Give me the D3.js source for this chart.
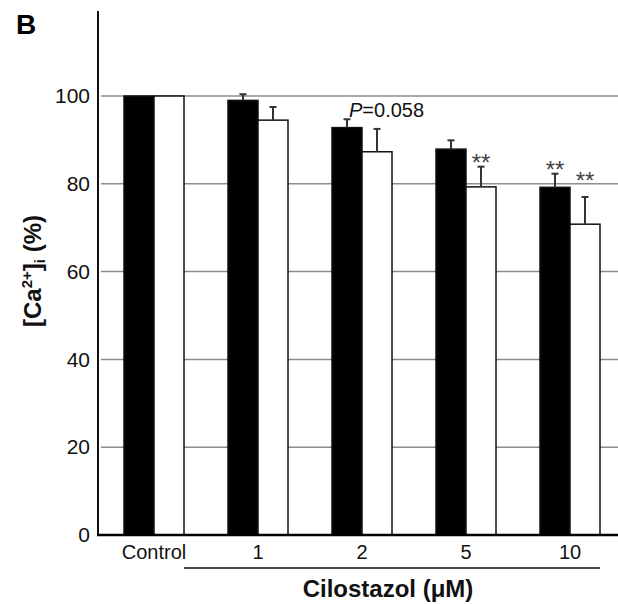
<!DOCTYPE html>
<html>
<head>
<meta charset="utf-8">
<script src="https://cdn.jsdelivr.net/npm/d3@7"></script>
<style>
  body { margin: 0; background: #fff; }
  svg { display: block; font-family: Arial, "Liberation Sans", sans-serif; }
</style>
</head>
<body>
<svg id="chart" width="618" height="604"></svg>
<script>
// data
const categories = ['Control', '1', '2', '5', '10'];
const series = ['black', 'white'];
const blackValues = [100, 99.0, 92.8, 87.9, 79.2];
const blackErrors = [0, 1.4, 1.9, 2.0, 3.1];
const whiteValues = [100, 94.5, 87.3, 79.3, 70.8];
const whiteErrors = [0, 3.0, 5.2, 4.6, 6.2];
const yTicks = [0, 20, 40, 60, 80, 100];

// significance marks: category, series, value where the mark sits
const starMarks = [
    { cat: '5', ser: 'white', v: 85.4 },
    { cat: '10', ser: 'black', v: 83.6 },
    { cat: '10', ser: 'white', v: 81.1 }
];
const pNote = { cat: '2', ser: 'black', v: 95.2, text: '=0.058' };

const svg = d3.select('#chart');
const W = 618;
const axisX = 98, baseY = 535, topY = 11;

const y = d3.scaleLinear().domain([0, 100]).range([baseY, 96]);

const x = d3.scaleBand()
    .domain(categories)
    .range([102, 622])
    .paddingInner(0.423)
    .paddingOuter(0.2115);

const xs = d3.scaleBand()
    .domain(series)
    .range([0, x.bandwidth()]);

// gridlines
svg.append('g')
    .selectAll('line')
    .data(yTicks.filter(d => d > 0))
    .join('line')
    .attr('x1', axisX + 3)
    .attr('x2', W)
    .attr('y1', d => y(d))
    .attr('y2', d => y(d))
    .attr('stroke', '#8c8c8c')
    .attr('stroke-width', 1.5);

// bars
const rows = categories.map((c, i) => [
    { cat: c, ser: 'black', v: blackValues[i], e: blackErrors[i] },
    { cat: c, ser: 'white', v: whiteValues[i], e: whiteErrors[i] }
]).flat();

svg.append('g')
    .selectAll('rect')
    .data(rows)
    .join('rect')
    .attr('x', d => x(d.cat) + xs(d.ser))
    .attr('y', d => y(d.v))
    .attr('width', xs.bandwidth())
    .attr('height', d => y(0) - y(d.v))
    .attr('fill', d => d.ser === 'black' ? '#000' : '#fff')
    .attr('stroke', '#111')
    .attr('stroke-width', 1.5);

// error bars (upper only)
const errs = svg.append('g').attr('stroke', '#333').attr('stroke-width', 2);
const errRows = rows.filter(d => d.e > 0);
const cx = d => x(d.cat) + xs(d.ser) + xs.bandwidth() / 2;
errs.selectAll('line.stem')
    .data(errRows)
    .join('line')
    .attr('class', 'stem')
    .attr('x1', cx).attr('x2', cx)
    .attr('y1', d => y(d.v))
    .attr('y2', d => y(d.v + d.e));
errs.selectAll('line.cap')
    .data(errRows)
    .join('line')
    .attr('class', 'cap')
    .attr('x1', d => cx(d) - 3.5).attr('x2', d => cx(d) + 3.5)
    .attr('y1', d => y(d.v + d.e))
    .attr('y2', d => y(d.v + d.e));

// y axis
const yAxis = svg.append('g')
    .attr('transform', `translate(${axisX},0)`)
    .call(d3.axisLeft(y).tickValues(yTicks).tickSize(0).tickPadding(8));
yAxis.select('.domain').remove();
yAxis.selectAll('text')
    .attr('font-size', 21)
    .attr('fill', '#111')
    .attr('font-family', 'Arial, "Liberation Sans", sans-serif');

svg.append('line')
    .attr('x1', axisX).attr('x2', axisX)
    .attr('y1', topY).attr('y2', baseY)
    .attr('stroke', '#111').attr('stroke-width', 2);

// x axis
svg.append('line')
    .attr('x1', axisX - 1).attr('x2', W)
    .attr('y1', baseY).attr('y2', baseY)
    .attr('stroke', '#000').attr('stroke-width', 2.5);

svg.append('g')
    .selectAll('text')
    .data(categories)
    .join('text')
    .attr('x', d => x(d) + x.bandwidth() / 2)
    .attr('y', 559)
    .attr('text-anchor', 'middle')
    .attr('font-size', 20)
    .attr('fill', '#111')
    .text(d => d);

// bracket line under the cilostazol doses
const bx1 = x('1') - (x.step() - x.bandwidth());
const bx2 = x('10') + x.bandwidth();
svg.append('line')
    .attr('x1', bx1).attr('x2', bx2)
    .attr('y1', 568).attr('y2', 568)
    .attr('stroke', '#111').attr('stroke-width', 1.5);

svg.append('text')
    .attr('x', (bx1 + bx2) / 2 - 4)
    .attr('y', 597)
    .attr('text-anchor', 'middle')
    .attr('font-size', 24)
    .attr('font-weight', 'bold')
    .attr('fill', '#111')
    .text('Cilostazol (μM)');

// y title
const yt = svg.append('text')
    .attr('transform', 'translate(41,271) rotate(-90)')
    .attr('text-anchor', 'middle')
    .attr('font-size', 24)
    .attr('font-weight', 'bold')
    .attr('fill', '#111');
yt.append('tspan').text('[Ca');
yt.append('tspan').attr('font-size', 15).attr('baseline-shift', '60%').text('2+');
yt.append('tspan').text(']');
yt.append('tspan').attr('font-size', 15).attr('baseline-shift', '-25%').text('i');
yt.append('tspan').text(' (%)');

// panel letter
svg.append('text')
    .attr('x', 16).attr('y', 34)
    .attr('font-size', 28)
    .attr('font-weight', 'bold')
    .text('B');

// P value note
const pt = svg.append('text')
    .attr('x', x(pNote.cat) + xs(pNote.ser) + 17)
    .attr('y', y(pNote.v))
    .attr('font-size', 20)
    .attr('fill', '#111');
pt.append('tspan').attr('font-style', 'italic').text('P');
pt.append('tspan').text(pNote.text);

// asterisks
svg.append('g')
    .selectAll('text')
    .data(starMarks)
    .join('text')
    .attr('x', d => x(d.cat) + xs(d.ser) + xs.bandwidth() / 2)
    .attr('y', d => y(d.v) + 10.5)
    .attr('text-anchor', 'middle')
    .attr('font-size', 24)
    .attr('fill', '#444')
    .text('**');
</script>
</body>
</html>
